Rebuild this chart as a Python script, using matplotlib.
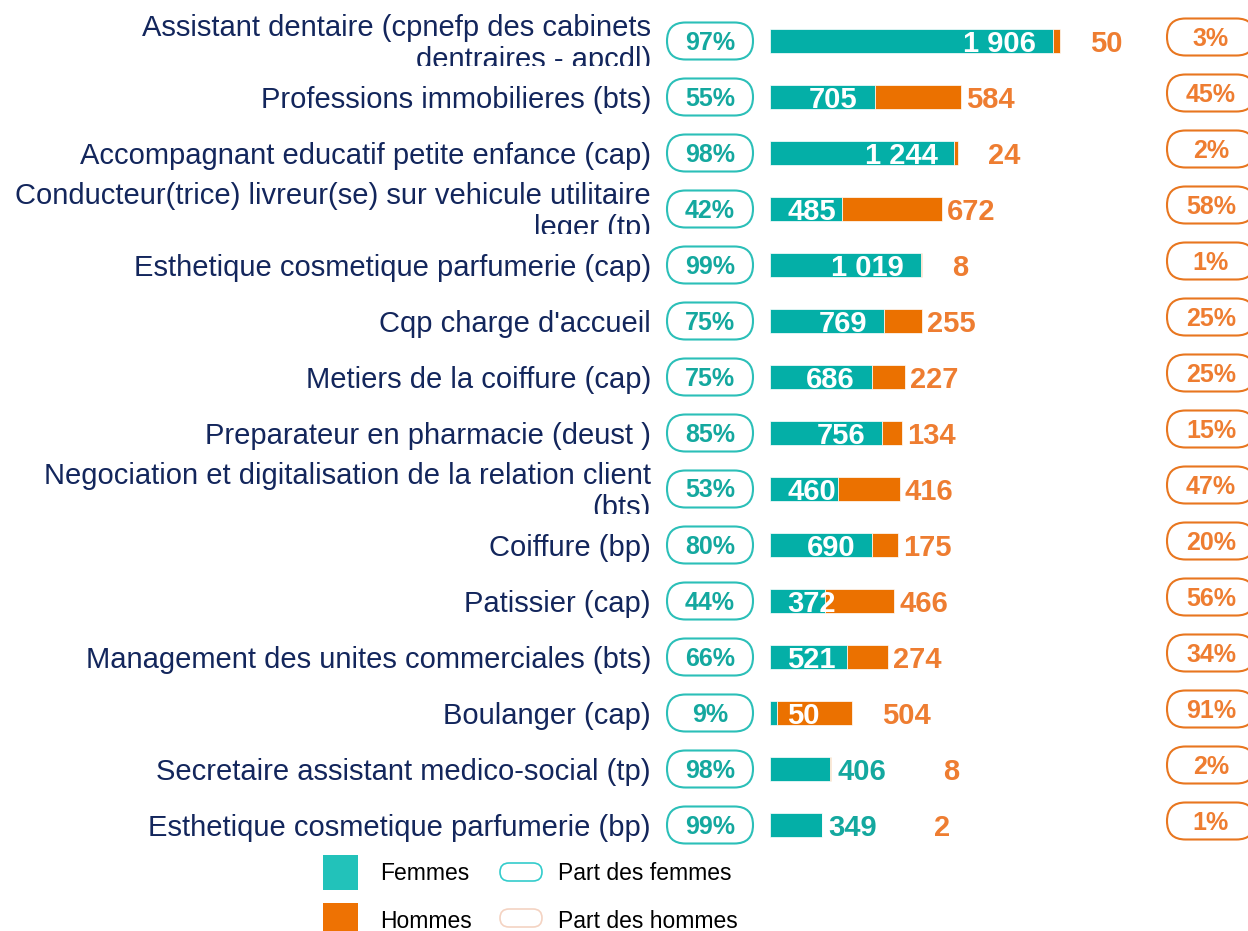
import numpy as np
import matplotlib.pyplot as plt
from matplotlib.patches import FancyBboxPatch, Rectangle
from matplotlib.transforms import Bbox, TransformedBbox

# Données : effectifs par formation
formations = [
    "Assistant dentaire (cpnefp des cabinets\ndentraires - apcdl)",
    "Professions immobilieres (bts)",
    "Accompagnant educatif petite enfance (cap)",
    "Conducteur(trice) livreur(se) sur vehicule utilitaire\nleger (tp)",
    "Esthetique cosmetique parfumerie (cap)",
    "Cqp charge d'accueil",
    "Metiers de la coiffure (cap)",
    "Preparateur en pharmacie (deust )",
    "Negociation et digitalisation de la relation client\n(bts)",
    "Coiffure (bp)",
    "Patissier (cap)",
    "Management des unites commerciales (bts)",
    "Boulanger (cap)",
    "Secretaire assistant medico-social (tp)",
    "Esthetique cosmetique parfumerie (bp)",
]
femmes = [1906, 705, 1244, 485, 1019, 769, 686, 756, 460, 690, 372, 521, 50, 406, 349]
hommes = [50, 584, 24, 672, 8, 255, 227, 134, 416, 175, 466, 274, 504, 8, 2]

TEAL = "#04afa7"
ORANGE = "#eb7100"
TXT_ORANGE = "#ee7d31"
TXT_TEAL = "#14a89f"
NAVY = "#13265c"

plt.rcParams['font.family'] = ['Liberation Sans', 'DejaVu Sans']

# mise en page (en pixels)
W, H = 1248, 931
X0 = 770        # début des barres
S = 0.1483      # pixels par personne
Y0, DY = 41, 56  # centre de la première ligne, pas entre lignes
DOWN = 3 / DY   # petit décalage vertical du texte


def px(x):
    return (x - X0) / S


def py(y):
    return (y - Y0) / DY


def fmt(v):
    return f"{v:,}".replace(",", " ")


def pill(ax, cx, row, w, h, color, lw=1.5):
    box = FancyBboxPatch((px(cx - w / 2), row - h / 2 / DY), w / S, h / DY,
                         boxstyle=f"round,pad=0,rounding_size={h / 2 / S}",
                         mutation_aspect=S / DY, fc="white", ec=color, lw=lw)
    ax.add_patch(box)


fig = plt.figure(figsize=(W / 100, H / 100), dpi=100)
ax = fig.add_axes([0, 0, 1, 1])
ax.set_xlim(px(0), px(W))
ax.set_ylim(py(H), py(0))
ax.axis('off')

femmes = np.array(femmes)
hommes = np.array(hommes)
total = femmes + hommes
rows = np.arange(len(formations))

ax.barh(rows, femmes, height=24 / DY, color=TEAL, edgecolor="white", linewidth=0.5)
ax.barh(rows, hommes, left=femmes, height=24 / DY, color=ORANGE, edgecolor="white", linewidth=0.5)

for i in rows:
    f, h, t = femmes[i], hommes[i], total[i]
    part_f = f / t * 100
    part_h = h / t * 100

    # libellé de la formation (coupé en bas de la ligne)
    lab = ax.text(px(651), i + DOWN, formations[i], ha="right", va="center", multialignment="right",
                  fontsize=21, color=NAVY, linespacing=1.2, clip_on=True)
    lab.set_clip_box(TransformedBbox(Bbox.from_extents(px(0), i - 30 / DY, px(660), i + 25 / DY),
                                     ax.transData))

    # pastilles de pourcentage
    pill(ax, 710, i, 86, 37, "#2bbfb8")
    ax.text(px(710), i + 1.5 / DY, f"{part_f:.0f}%", ha="center", va="center",
            fontsize=18, fontweight="bold", color=TXT_TEAL)
    pill(ax, 1211, i - 4 / DY, 88, 37, "#e8761f")
    ax.text(px(1211), i - 2.5 / DY, f"{part_h:.0f}%", ha="center", va="center",
            fontsize=18, fontweight="bold", color=TXT_ORANGE)

    # valeurs femmes
    outside = f < 500 and part_h < 3
    if outside:
        ax.annotate(fmt(f), (f, i), xytext=(7, -3), textcoords="offset pixels",
                    ha="left", va="center", fontsize=21, fontweight="bold", color=TXT_TEAL)
    elif f >= 530:
        ax.annotate(fmt(f), (f, i), xytext=(-17, -3), textcoords="offset pixels",
                    ha="right", va="center", fontsize=21, fontweight="bold", color="white")
    else:
        ax.annotate(fmt(f), (0, i), xytext=(17, -3), textcoords="offset pixels",
                    ha="left", va="center", fontsize=21, fontweight="bold", color="white")

    # valeurs hommes
    if outside:
        pad = 112
    elif 10 <= part_h <= 60:
        pad = 5
    else:
        pad = 30
    ax.annotate(fmt(h), (t, i), xytext=(pad, -3), textcoords="offset pixels",
                ha="left", va="center", fontsize=21, fontweight="bold", color=TXT_ORANGE)

# légende
ax.add_patch(Rectangle((px(323), py(855)), 35 / S, 35 / DY, fc="#22c2ba", ec="none"))
ax.add_patch(Rectangle((px(323), py(903)), 35 / S, 35 / DY, fc="#ee7203", ec="none"))
ax.text(px(380), py(874), "Femmes", ha="left", va="center", fontsize=16.5, color="black")
ax.text(px(380), py(921), "Hommes", ha="left", va="center", fontsize=16.5, color="black")
pill(ax, 521, py(872), 42, 18, "#33cccc", lw=1.2)
pill(ax, 521, py(918), 42, 18, "#f4d3c2", lw=1.2)
ax.text(px(558), py(874), "Part des femmes", ha="left", va="center", fontsize=16.5, color="black")
ax.text(px(558), py(921), "Part des hommes", ha="left", va="center", fontsize=16.5, color="black")

fig.savefig("out.png", dpi=100)
